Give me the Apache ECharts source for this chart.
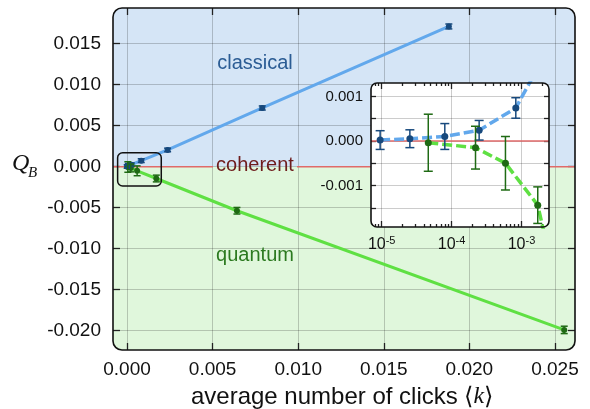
<!DOCTYPE html>
<html>
<head>
<meta charset="utf-8">
<script src="https://cdn.jsdelivr.net/npm/echarts@6/dist/echarts.min.js"></script>
<style>
  html, body { margin: 0; background: #fff; }
  #chart { width: 590px; height: 409px; }
</style>
</head>
<body>
<div id="chart"></div>
<script>
// measured points: average number of clicks <k> vs Q_B
const classicalK = [0.0000095, 0.0000253, 0.000080, 0.000248, 0.00083, 0.00237, 0.0079, 0.0188];
const classicalQ = [0.00002, 0.00005, 0.00010, 0.00024, 0.00074, 0.00204, 0.00716, 0.0171];
const classicalErr = [0.00021, 0.00020, 0.00029, 0.00022, 0.00023, 0.00022, 0.00025, 0.0003];

const quantumK = [0.0000464, 0.00022, 0.00059, 0.00171, 0.00642, 0.02554];
const quantumQ = [-0.00004, -0.00015, -0.0005, -0.00144, -0.00537, -0.0199];
const quantumErr = [0.00064, 0.00048, 0.0006, 0.00041, 0.0004, 0.00045];

// tick labels
const mainXTicks = [0, 0.005, 0.01, 0.015, 0.02, 0.025];
const mainYTicks = [-0.02, -0.015, -0.01, -0.005, 0, 0.005, 0.01, 0.015];
const insetXTicks = [1e-5, 1e-4, 1e-3];
const insetXMinor = [8e-6, 9e-6, 2e-5, 3e-5, 4e-5, 5e-5, 6e-5, 7e-5, 8e-5, 9e-5,
  2e-4, 3e-4, 4e-4, 5e-4, 6e-4, 7e-4, 8e-4, 9e-4, 2e-3];
const insetYTicks = [-0.0015, -0.001, -0.0005, 0, 0.0005, 0.001];
const insetYLabels = [-0.001, 0, 0.001];

// axis ranges
const xMin = -0.00082, xMax = 0.02617, yMin = -0.02235, yMax = 0.01935;
const lxMin = -5.153, lxMax = -2.606, iyMin = -0.00193, iyMax = 0.0013;

const FONT = '"Liberation Sans", Arial, sans-serif';
const SERIF = '"Liberation Serif", "DejaVu Serif", serif';
const BLUE_LINE = '#62a8ec', BLUE_DOT = '#17497d';
const GREEN_LINE = '#5fe043', GREEN_DOT = '#1f6a14';
const GRID_LINE = 'rgba(0,0,0,0.2)';

const chart = echarts.init(document.getElementById('chart'));
const log10 = (v) => Math.log10(v);
const ident = (v) => v;

function pairs(xs, ys, f) {
  return xs.map((x, i) => [f(x), ys[i]]);
}

function lineSeries(xs, ys, f, color, dot, inset) {
  return {
    type: 'line',
    xAxisIndex: inset ? 2 : 0,
    yAxisIndex: inset ? 2 : 0,
    zlevel: inset ? 1 : 0,
    data: pairs(xs, ys, f),
    symbol: 'circle',
    symbolSize: inset ? 7 : 6,
    itemStyle: { color: dot },
    lineStyle: { color, width: inset ? 3.5 : 3, type: inset ? [10, 4] : 'solid' },
    clip: true,
    z: 3,
  };
}

function errorSeries(xs, ys, errs, f, color, inset) {
  const cap = inset ? 4.5 : 3.5;
  return {
    type: 'custom',
    xAxisIndex: inset ? 2 : 0,
    yAxisIndex: inset ? 2 : 0,
    zlevel: inset ? 1 : 0,
    clip: true,
    z: 4,
    data: xs.map((x, i) => [f(x), ys[i] - errs[i], ys[i] + errs[i]]),
    encode: { x: 0, y: [1, 2] },
    renderItem: (params, api) => {
      const lo = api.coord([api.value(0), api.value(1)]);
      const hi = api.coord([api.value(0), api.value(2)]);
      const st = { stroke: color, lineWidth: 1.5 };
      return {
        type: 'group',
        children: [
          { type: 'line', shape: { x1: lo[0], y1: lo[1], x2: hi[0], y2: hi[1] }, style: st },
          { type: 'line', shape: { x1: lo[0] - cap, y1: lo[1], x2: lo[0] + cap, y2: lo[1] }, style: st },
          { type: 'line', shape: { x1: hi[0] - cap, y1: hi[1], x2: hi[0] + cap, y2: hi[1] }, style: st },
        ],
      };
    },
  };
}

function tickAxis(opt) {
  return Object.assign({
    type: 'value',
    axisLine: { show: false, onZero: false },
    axisLabel: { show: false },
    splitLine: { show: false },
  }, opt);
}

const mainTick = (vals, len) => ({
  inside: true, length: len, customValues: vals,
  lineStyle: { color: '#222', width: 1.3 },
});

chart.setOption({
  animation: false,
  grid: [
    { left: 113, top: 8, width: 462, height: 342 },
    { left: 371, top: 83, width: 178, height: 144 },
  ],
  xAxis: [
    tickAxis({
      gridIndex: 0, min: xMin, max: xMax, position: 'bottom',
      axisTick: mainTick(mainXTicks, 7),
      axisLabel: {
        show: true, customValues: mainXTicks, margin: 10,
        fontFamily: FONT, fontSize: 19, color: '#111',
        formatter: (v) => v.toFixed(3),
      },
      splitLine: { show: true, lineStyle: { color: GRID_LINE, width: 1 } },
    }),
    tickAxis({ gridIndex: 0, min: xMin, max: xMax, position: 'top', axisTick: mainTick(mainXTicks, 7) }),
    tickAxis({
      gridIndex: 1, min: lxMin, max: lxMax, position: 'bottom', zlevel: 1,
      axisTick: mainTick(insetXTicks.map(log10), 6),
      axisLabel: {
        show: true, customValues: insetXTicks.map(log10), margin: 8,
        formatter: (v) => '{b|10}{s|' + Math.round(v) + '}',
        rich: {
          b: { fontFamily: FONT, fontSize: 16, color: '#111', lineHeight: 19 },
          s: { fontFamily: FONT, fontSize: 11, color: '#111', verticalAlign: 'top', lineHeight: 11 },
        },
      },
      splitLine: { show: true, lineStyle: { color: GRID_LINE, width: 1 } },
    }),
    tickAxis({ gridIndex: 1, min: lxMin, max: lxMax, position: 'bottom', zlevel: 1,
      axisTick: mainTick(insetXMinor.map(log10), 3) }),
    tickAxis({ gridIndex: 1, min: lxMin, max: lxMax, position: 'top', zlevel: 1,
      axisTick: mainTick(insetXTicks.map(log10), 6) }),
    tickAxis({ gridIndex: 1, min: lxMin, max: lxMax, position: 'top', zlevel: 1,
      axisTick: mainTick(insetXMinor.map(log10), 3) }),
  ],
  yAxis: [
    tickAxis({
      gridIndex: 0, min: yMin, max: yMax, position: 'left',
      axisTick: mainTick(mainYTicks, 7),
      axisLabel: {
        show: true, customValues: mainYTicks, margin: 12,
        fontFamily: FONT, fontSize: 19, color: '#111',
        formatter: (v) => v.toFixed(3),
      },
      splitLine: { show: true, lineStyle: { color: GRID_LINE, width: 1 } },
    }),
    tickAxis({ gridIndex: 0, min: yMin, max: yMax, position: 'right', axisTick: mainTick(mainYTicks, 7) }),
    tickAxis({
      gridIndex: 1, min: iyMin, max: iyMax, position: 'left', zlevel: 1,
      axisTick: mainTick(insetYTicks, 5),
      axisLabel: {
        show: true, customValues: insetYLabels, margin: 8,
        fontFamily: FONT, fontSize: 15, color: '#111',
        formatter: (v) => v.toFixed(3),
      },
      splitLine: { show: true, lineStyle: { color: GRID_LINE, width: 1 } },
    }),
    tickAxis({ gridIndex: 1, min: iyMin, max: iyMax, position: 'right', zlevel: 1,
      axisTick: mainTick(insetYTicks, 5) }),
  ],
  series: [
    lineSeries(classicalK, classicalQ, ident, BLUE_LINE, BLUE_DOT, false),
    lineSeries(quantumK, quantumQ, ident, GREEN_LINE, GREEN_DOT, false),
    errorSeries(classicalK, classicalQ, classicalErr, ident, BLUE_DOT, false),
    errorSeries(quantumK, quantumQ, quantumErr, ident, GREEN_DOT, false),
    lineSeries(classicalK, classicalQ, log10, BLUE_LINE, BLUE_DOT, true),
    lineSeries(quantumK, quantumQ, log10, GREEN_LINE, GREEN_DOT, true),
    errorSeries(classicalK, classicalQ, classicalErr, log10, BLUE_DOT, true),
    errorSeries(quantumK, quantumQ, quantumErr, log10, GREEN_DOT, true),
  ],
});

// backgrounds, frames and annotations placed from the axes' own scales
const toMain = (p) => chart.convertToPixel({ xAxisIndex: 0, yAxisIndex: 0 }, p);
const toInset = (p) => chart.convertToPixel({ xAxisIndex: 2, yAxisIndex: 2 }, p);
const [l, t] = toMain([xMin, yMax]);
const [r, b] = toMain([xMax, yMin]);
const y0 = toMain([0, 0])[1];
const [bl, bt] = toMain([-0.00055, 0.0017]);
const [br, bb] = toMain([0.0020, -0.00235]);
const [il, it] = toInset([lxMin, iyMax]);
const [ir, ib] = toInset([lxMax, iyMin]);
const iy0 = toInset([lxMin, 0])[1];
const red = { stroke: '#e06a6a', lineWidth: 1.5 };

chart.setOption({
  graphic: [
    { type: 'rect', z: -10, shape: { x: l, y: t, width: r - l, height: y0 - t, r: [9, 9, 0, 0] }, style: { fill: '#d5e5f6' } },
    { type: 'rect', z: -10, shape: { x: l, y: y0, width: r - l, height: b - y0, r: [0, 0, 9, 9] }, style: { fill: '#e0f7dc' } },
    { type: 'line', z: 1, shape: { x1: l, y1: y0, x2: 213, y2: y0 }, style: red },
    { type: 'line', z: 1, shape: { x1: 297, y1: y0, x2: r, y2: y0 }, style: red },
    { type: 'rect', z: 10, shape: { x: l, y: t, width: r - l, height: b - t, r: 9 }, style: { fill: 'none', stroke: '#111', lineWidth: 1.6 } },
    { type: 'rect', z: 10, shape: { x: bl, y: bt, width: br - bl, height: bb - bt, r: 5 }, style: { fill: 'none', stroke: '#111', lineWidth: 1.5 } },
    { type: 'rect', zlevel: 1, z: -10, shape: { x: il, y: it, width: ir - il, height: ib - it, r: 6 }, style: { fill: '#fff' } },
    { type: 'line', zlevel: 1, z: 1, shape: { x1: il, y1: iy0, x2: ir, y2: iy0 }, style: red },
    { type: 'rect', zlevel: 1, z: 10, shape: { x: il, y: it, width: ir - il, height: ib - it, r: 6 }, style: { fill: 'none', stroke: '#111', lineWidth: 1.6 } },
    { type: 'text', z: 5, style: { text: 'classical', x: 255, y: 63, align: 'center', verticalAlign: 'middle', font: '20px ' + FONT, fill: '#2b5c94' } },
    { type: 'text', z: 5, style: { text: 'coherent', x: 255, y: 165, align: 'center', verticalAlign: 'middle', font: '20px ' + FONT, fill: '#6e1c1c' } },
    { type: 'text', z: 5, style: { text: 'quantum', x: 255, y: 255, align: 'center', verticalAlign: 'middle', font: '20px ' + FONT, fill: '#2c7a20' } },
    { type: 'text', style: { text: 'Q', x: 12, y: 176, verticalAlign: 'bottom', font: 'italic 24px ' + SERIF, fill: '#111' } },
    { type: 'text', style: { text: 'B', x: 28, y: 181, verticalAlign: 'bottom', font: 'italic 15px ' + SERIF, fill: '#111' } },
    {
      type: 'text',
      style: {
        text: '{a|average number of clicks ⟨}{k|k}{a|⟩}', x: 342, y: 397, align: 'center', verticalAlign: 'middle',
        rich: {
          a: { fontFamily: FONT, fontSize: 24, fill: '#111' },
          k: { fontFamily: SERIF, fontStyle: 'italic', fontSize: 24, fill: '#111' },
        },
      },
    },
  ],
});
</script>
</body>
</html>
